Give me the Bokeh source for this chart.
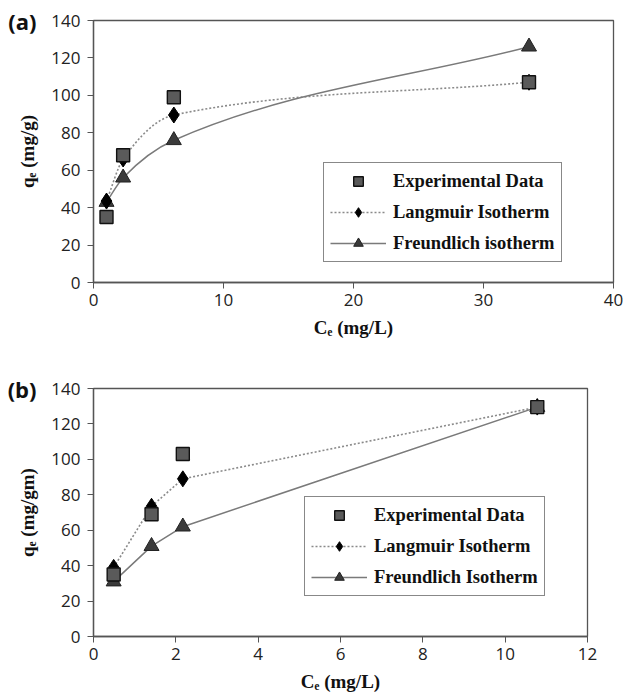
from bokeh.plotting import figure
from bokeh.layouts import column
from bokeh.models import Range1d, Legend, LegendItem, FixedTicker, LinearAxis
from bokeh.embed import file_html
from bokeh.resources import INLINE

# ---- data (panel a) ----
a_ce = [1.0, 2.28, 6.18, 33.5]
a_exp = [35, 68, 99, 107]
a_lang = [43.5, 66, 89.5, 107]
a_freu = [43, 56, 76, 126]
a_xticks = [0, 10, 20, 30, 40]

# ---- data (panel b) ----
b_ce = [0.49, 1.41, 2.17, 10.78]
b_exp = [35, 69, 103, 129.5]
b_lang = [39, 73.5, 89, 129.5]
b_freu = [31, 51, 62, 129.5]
b_xticks = [0, 2, 4, 6, 8, 10, 12]

y_ticks = [0, 20, 40, 60, 80, 100, 120, 140]

SERIF = "Liberation Serif"
SANS = "Open Sans"


def smooth_ctrl(xs, ys):
    """Bezier control points for a smoothed (monotone Hermite) line through the points."""
    n = len(xs)
    h = [xs[i + 1] - xs[i] for i in range(n - 1)]
    d = [(ys[i + 1] - ys[i]) / h[i] for i in range(n - 1)]
    m = [d[0]]
    for i in range(1, n - 1):
        if d[i - 1] * d[i] <= 0:
            m.append(0.0)
        else:
            w1 = 2 * h[i] + h[i - 1]
            w2 = h[i] + 2 * h[i - 1]
            m.append((w1 + w2) / (w1 / d[i - 1] + w2 / d[i]))
    m.append(d[-1])
    out = dict(x0=[], y0=[], x1=[], y1=[], cx0=[], cy0=[], cx1=[], cy1=[])
    for i in range(n - 1):
        out["x0"].append(xs[i]); out["y0"].append(ys[i])
        out["x1"].append(xs[i + 1]); out["y1"].append(ys[i + 1])
        out["cx0"].append(xs[i] + h[i] / 3); out["cy0"].append(ys[i] + m[i] * h[i] / 3)
        out["cx1"].append(xs[i + 1] - h[i] / 3); out["cy1"].append(ys[i + 1] - m[i + 1] * h[i] / 3)
    return out


def panel(ce, exp, lang, freu, xmax, xticks, ylab, names, smooth,
          w, h, bl, br, bt, bb, leg_loc, tag):
    p = figure(width=w, height=h, output_backend="svg", toolbar_location=None,
               x_range=Range1d(0, xmax), y_range=Range1d(0, 140),
               min_border_left=bl, min_border_right=br,
               min_border_top=bt, min_border_bottom=bb)
    p.xgrid.visible = False
    p.ygrid.visible = False
    p.outline_line_color = "#555555"
    p.outline_line_width = 1.3
    p.background_fill_color = "white"
    p.border_fill_color = "white"

    for ax in (p.xaxis[0], p.yaxis[0]):
        ax.axis_line_color = "#555555"
        ax.axis_line_width = 1.3
        ax.major_tick_line_color = "#555555"
        ax.major_tick_in = 0
        ax.major_tick_out = 6
        ax.minor_tick_line_color = None
        ax.major_label_text_font = SANS
        ax.major_label_text_font_size = "17px"
        ax.major_label_text_color = "#222222"
        ax.axis_label_text_font = SERIF
        ax.axis_label_text_font_style = "bold"
        ax.axis_label_text_font_size = "19px"
        ax.axis_label_text_color = "#111111"
    p.xaxis.ticker = FixedTicker(ticks=xticks)
    p.yaxis.ticker = FixedTicker(ticks=y_ticks)
    p.xaxis.major_label_standoff = 5
    p.yaxis.major_label_standoff = 7
    p.xaxis.axis_label = "Cₑ (mg/L)"
    p.xaxis.axis_label_standoff = 8

    # outer left axis: carries the panel tag "(a)"/"(b)" at the top and the y title
    tag_axis = LinearAxis(ticker=FixedTicker(ticks=[140]),
                          major_label_overrides={140: tag},
                          axis_line_color=None, major_tick_line_color=None,
                          minor_tick_line_color=None,
                          major_tick_in=0, major_tick_out=0,
                          major_label_standoff=12,
                          major_label_text_font=SANS,
                          major_label_text_font_size="22px",
                          major_label_text_font_style="bold",
                          major_label_text_color="#111111",
                          axis_label=ylab, axis_label_standoff=-33,
                          axis_label_text_font=SERIF,
                          axis_label_text_font_style="bold",
                          axis_label_text_font_size="19px",
                          axis_label_text_color="#111111")
    p.add_layout(tag_axis, "left")

    lang_kw = dict(line_color="#8a8a8a", line_width=1.6, line_dash="2 2")
    freu_kw = dict(line_color="#7a7a7a", line_width=1.5)
    if smooth:
        l_line = p.bezier(source=smooth_ctrl(ce, lang), x0="x0", y0="y0", x1="x1", y1="y1",
                          cx0="cx0", cy0="cy0", cx1="cx1", cy1="cy1", **lang_kw)
        f_line = p.bezier(source=smooth_ctrl(ce, freu), x0="x0", y0="y0", x1="x1", y1="y1",
                          cx0="cx0", cy0="cy0", cx1="cx1", cy1="cy1", **freu_kw)
    else:
        l_line = p.line(ce, lang, **lang_kw)
        f_line = p.line(ce, freu, **freu_kw)

    f_pts = p.scatter(ce, freu, marker="triangle", size=15, fill_color="#3a3a3a",
                      line_color="#222222", line_width=1)
    l_pts = p.scatter(ce, lang, marker="diamond", size=16, fill_color="#000000",
                      line_color="#000000")
    e_pts = p.scatter(ce, exp, marker="square", size=13, fill_color="#5a5a5a",
                      line_color="#111111", line_width=1.4)

    legend = Legend(items=[
        LegendItem(label=names[0], renderers=[e_pts]),
        LegendItem(label=names[1], renderers=[l_line, l_pts]),
        LegendItem(label=names[2], renderers=[f_line, f_pts]),
    ], location=leg_loc)
    legend.border_line_color = "#111111"
    legend.border_line_width = 1.6
    legend.background_fill_color = "white"
    legend.background_fill_alpha = 1.0
    legend.label_text_font = SERIF
    legend.label_text_font_style = "bold"
    legend.label_text_font_size = "18.5px"
    legend.label_text_color = "#111111"
    legend.glyph_width = 56
    legend.glyph_height = 24
    legend.label_height = 24
    legend.label_standoff = 7
    legend.spacing = 7
    legend.padding = 6
    legend.margin = 0
    p.add_layout(legend)
    return p


pa = panel(a_ce, a_exp, a_lang, a_freu, 40, a_xticks, "qₑ (mg/g)",
           ["Experimental Data", "Langmuir Isotherm", "Freundlich isotherm"], True,
           623, 345, 93, 10, 20, 63, (230, 20), "(a)")
pb = panel(b_ce, b_exp, b_lang, b_freu, 12, b_xticks, "qₑ (mg/gm)",
           ["Experimental Data", "Langmuir Isotherm", "Freundlich Isotherm"], False,
           623, 353, 93, 36, 43, 62, (211, 40), "(b)")

layout = column(column(pa), column(pb), spacing=0)
open("out.html", "w").write(file_html(layout, INLINE))
